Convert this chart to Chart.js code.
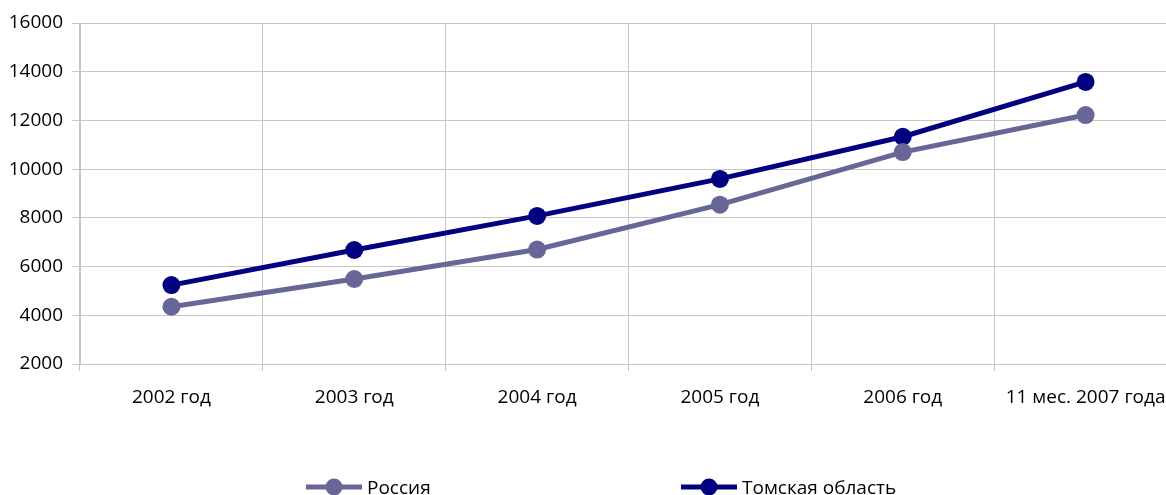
<!DOCTYPE html>
<html>
<head>
<meta charset="utf-8">
<script src="https://cdn.jsdelivr.net/npm/chart.js@4/dist/chart.umd.min.js"></script>
<style>
html{margin:0;padding:0;overflow:hidden;background:#fff;}
body{margin:0;padding:0;background:#fff;width:1200px;height:495px;}
#wrap{width:1186px;height:495px;}
canvas{display:block;}
</style>
</head>
<body>
<div id="wrap"><canvas id="c" width="1186" height="495"></canvas></div>
<script>
const categories = ["2002 год", "2003 год", "2004 год", "2005 год", "2006 год", "11 мес. 2007 года"];
const russia = [4350, 5490, 6700, 8540, 10700, 12220];
const tomsk = [5240, 6680, 8080, 9600, 11330, 13580];
const seriesNames = ["Россия", "Томская область"];
const seriesColors = ["#666699", "#000080"];
const yMin = 2000, yMax = 16000, yStep = 2000;

const FONT = "'Open Sans', 'Noto Sans', sans-serif";
const gridColor = "#c6c6c6";

const legendPlugin = {
  id: 'customLegend',
  afterDraw(chart) {
    const ctx = chart.ctx;
    const items = [{x: 306}, {x: 681}];
    const y = 487;
    chart.data.datasets.forEach((ds, i) => {
      const x0 = items[i].x;
      ctx.save();
      ctx.strokeStyle = ds.borderColor;
      ctx.lineWidth = 5;
      ctx.beginPath();
      ctx.moveTo(x0, y);
      ctx.lineTo(x0 + 56, y);
      ctx.stroke();
      ctx.fillStyle = ds.borderColor;
      ctx.beginPath();
      ctx.arc(x0 + 28, y, 8.5, 0, Math.PI * 2);
      ctx.fill();
      ctx.fillStyle = "#000";
      ctx.font = "19px " + FONT;
      ctx.textBaseline = "middle";
      ctx.textAlign = "left";
      ctx.fillText(ds.label, x0 + 61, y + 2);
      ctx.restore();
    });
  }
};

new Chart(document.getElementById('c'), {
  type: 'line',
  data: {
    labels: categories,
    datasets: [
      { label: seriesNames[0], data: russia, borderColor: seriesColors[0], backgroundColor: seriesColors[0],
        borderWidth: 5, pointRadius: 9, pointHoverRadius: 9, pointBackgroundColor: seriesColors[0], pointBorderWidth: 0, tension: 0 },
      { label: seriesNames[1], data: tomsk, borderColor: seriesColors[1], backgroundColor: seriesColors[1],
        borderWidth: 5, pointRadius: 9, pointHoverRadius: 9, pointBackgroundColor: seriesColors[1], pointBorderWidth: 0, tension: 0 }
    ]
  },
  options: {
    responsive: false,
    animation: false,
    devicePixelRatio: 1,
    layout: { padding: { top: 23, right: 0, bottom: 71, left: 0 } },
    plugins: { legend: { display: false }, tooltip: { enabled: false } },
    scales: {
      x: {
        offset: true,
        grid: { color: gridColor, offset: true, tickLength: 7, drawTicks: true, lineWidth: 1 },
        border: { color: gridColor },
        ticks: { color: "#000", font: { family: FONT, size: 19 }, padding: 15, maxRotation: 0, autoSkip: false },
        afterFit(scale) { scale.height = 60; }
      },
      y: {
        min: yMin, max: yMax,
        grid: { color: gridColor, tickLength: 8, lineWidth: 1 },
        border: { color: gridColor },
        ticks: { stepSize: yStep, color: "#000", font: { family: FONT, size: 19 }, padding: 9,
          callback: (v) => String(v) },
        afterFit(scale) { scale.width = 80; }
      }
    }
  },
  plugins: [legendPlugin]
});
</script>
</body>
</html>
